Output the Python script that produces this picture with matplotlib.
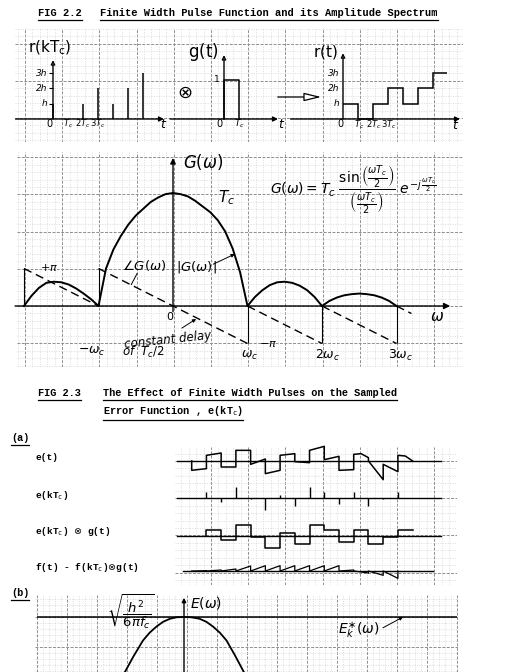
import numpy as np
import matplotlib.pyplot as plt
from matplotlib.ticker import MultipleLocator
from matplotlib.lines import Line2D
from matplotlib.patches import FancyArrowPatch

W, H = 521, 672

# FIG 2.2 top row: sampled input r(kTc), pulse g(t), held output r(t)
sample_k = [0, 1, 2, 3, 4, 5, 6]
sample_r = [1, 0, 1, 2, 1, 2, 3]          # units of h
hold_end = 6.9                              # last step drawn up to here (Tc)
pulse_t = [0, 0, 1, 1]
pulse_g = [0, 1, 1, 0]

# FIG 2.2 spectrum: w in units of wc, |G| in units of Tc, phase in units of pi
mag_w = [-2.0, -1.9, -1.8, -1.7, -1.6, -1.5, -1.4, -1.3, -1.2, -1.1,
         -1.0, -0.9, -0.8, -0.7, -0.6, -0.5, -0.4, -0.3, -0.2, -0.1,
         0.0, 0.1, 0.2, 0.3, 0.4, 0.5, 0.6, 0.7, 0.8, 0.9,
         1.0, 1.1, 1.2, 1.3, 1.4, 1.5, 1.6, 1.7, 1.8, 1.9,
         2.0, 2.1, 2.2, 2.3, 2.4, 2.5, 2.6, 2.7, 2.8, 2.9, 3.0]
mag_g = [0.0, 0.09, 0.16, 0.205, 0.215, 0.21, 0.19, 0.155, 0.11, 0.06,
         0.0, 0.33, 0.50, 0.62, 0.72, 0.80, 0.86, 0.92, 0.96, 0.99,
         1.0, 0.99, 0.97, 0.93, 0.88, 0.83, 0.76, 0.66, 0.51, 0.30,
         0.0, 0.08, 0.14, 0.185, 0.21, 0.215, 0.205, 0.18, 0.14, 0.08,
         0.0, 0.045, 0.075, 0.095, 0.105, 0.11, 0.105, 0.095, 0.075, 0.045, 0.0]
phase_w0 = [-2, -1, 1, 2, 3]
phase_w1 = [-1, 1, 2, 3, 3.2]
phase_p0 = [1, 1, 0, 0, 0]
phase_p1 = [0, -1, -1, -1, -0.2]
jump_w = [-2, -1, 1, 2, 3]
jump_p = [1, 1, -1, -1, -1]

# FIG 2.3 (a): time in units of Tc, amplitude in arbitrary units
et_t = [0, 0, 1, 1, 2, 2, 3, 3, 4, 4, 5, 5, 6, 6, 7, 7, 8, 8, 9, 9,
        10, 10, 11, 11, 11.5, 12, 12, 13, 13, 14, 14, 14.5, 15]
et_v = [0, -2.8, -2.3, 1.7, 2.4, -1.8, -1.8, 3.2, 3.2, -1.0, 0.6, -3.8, -2.8, 1.7, 2.2, -0.2, -0.5, 3.2, 4.4, 0.4,
        1.4, -2.8, -2.6, 2.0, 2.2, 1.0, 0.0, -5.6, -1.0, -3.2, 1.7, 1.5, 0.0]
ek_k = [1, 2, 3, 4, 5, 6, 7, 8, 9, 10, 11, 12, 13, 14]
ek_v = [1.9, -1.3, 3.2, -0.3, -3.6, 1.0, -2.3, 3.2, 1.7, -1.8, 1.7, -2.5, -0.3, 1.9]
ripple = [0.1, 0.3, 0.6, 1.5, 1.6, 1.6, 1.6, 1.6, 1.6, 1.6, 0.3, -0.6, -1.3, -2.2]

# FIG 2.3 (b): E(w), level line = sqrt(h^2 / 6 pi fc)
E_w = [-0.84, -0.79, -0.68, -0.55, -0.46, -0.37, -0.28, -0.19, -0.10, 0.0,
       0.10, 0.21, 0.30, 0.39, 0.48, 0.57, 0.68, 0.80, 0.85]
E_v = [0.0, 0.09, 0.34, 0.61, 0.74, 0.84, 0.92, 0.97, 0.995, 1.0,
       0.995, 0.97, 0.92, 0.84, 0.74, 0.61, 0.37, 0.09, 0.0]
E_level = 1.0

TYPE = ['Liberation Mono', 'DejaVu Sans Mono']
INK = 'black'

fig = plt.figure(figsize=(W / 100, H / 100), dpi=100)


def paper(x0, y0, x1, y1, xo, yo, step=37.2):
    ax = fig.add_axes([x0 / W, 1 - y1 / H, (x1 - x0) / W, (y1 - y0) / H])
    ax.set_xlim(x0 - xo, x1 - xo)
    ax.set_ylim(yo - y1, yo - y0)
    for axis in (ax.xaxis, ax.yaxis):
        axis.set_major_locator(MultipleLocator(step))
        axis.set_minor_locator(MultipleLocator(step / 5))
    ax.grid(which='major', color='#8e8e8e', lw=0.7, ls=(0, (3, 1.5)))
    ax.grid(which='minor', color='#d2d2d2', lw=0.5, ls=(0, (1.5, 2)))
    ax.tick_params(which='both', length=0, labelbottom=False, labelleft=False)
    for s in ax.spines.values():
        s.set_visible(False)
    ax.patch.set_alpha(0)
    return ax


def frame(x0, y0, x1, y1, ox, oy, sx, sy):
    ax = fig.add_axes([x0 / W, 1 - y1 / H, (x1 - x0) / W, (y1 - y0) / H])
    ax.set_xlim((x0 - ox) / sx, (x1 - ox) / sx)
    ax.set_ylim((oy - y1) / sy, (oy - y0) / sy)
    ax.axis('off')
    return ax


def arrow(ax, x0, y0, x1, y1, ms=8, lw=1.0, fc=INK):
    ax.annotate('', xy=(x1, y1), xytext=(x0, y0), annotation_clip=False,
                arrowprops=dict(arrowstyle='-|>', lw=lw, ec=INK, fc=fc,
                                mutation_scale=ms, shrinkA=0, shrinkB=0))


# ---------------- FIG 2.2 top row ----------------
paper(15, 28, 463, 142, 25, 118)

ax = frame(15, 28, 170, 142, 53, 119, 15, 15.3)
ax.vlines(sample_k, 0, sample_r, color=INK, lw=1.1)
arrow(ax, -2.5, 0, 7.4, 0, ms=7)
arrow(ax, 0, 0, 0, 3.85, ms=6, fc='white')
ax.hlines([1, 2, 3], -0.3, 0, color=INK, lw=0.8)
for lv, lab in zip([1, 2, 3], ['h', '2h', '3h']):
    ax.text(-0.35, lv, lab, fontsize=6.5, style='italic', ha='right', va='center')
ax.text(-0.25, -0.3, '0', fontsize=7, ha='center', va='center')
for kk, lab in zip([1, 2, 3], ['$T_c$', '$2T_c$', '$3T_c$']):
    ax.text(kk, -0.3, lab, fontsize=6, ha='center', va='center')
ax.text(7.4, -0.35, '$t$', fontsize=9, ha='center', va='center')
ax.text(-0.2, 4.65, r'$\mathrm{r(kT_c)}$', fontsize=11, ha='center', va='center')

ax = frame(170, 28, 290, 142, 224, 119, 15, 39)
ax.plot(pulse_t, pulse_g, color=INK, lw=1.1)
arrow(ax, -3.6, 0, 3.6, 0, ms=7)
arrow(ax, 0, 0, 0, 1.64, ms=6, fc='white')
ax.text(-0.3, 1.0, '1', fontsize=6.5, ha='right', va='center')
ax.text(-0.3, -0.13, '0', fontsize=7, ha='center', va='center')
ax.text(1.0, -0.13, '$T_c$', fontsize=6.5, ha='center', va='center')
ax.text(3.85, -0.15, '$t$', fontsize=9, ha='center', va='center')
ax.text(-1.4, 1.72, r'$\mathrm{g(t)}$', fontsize=12, ha='center', va='center')
ax.text(-2.6, 0.66, r'$\otimes$', fontsize=13, ha='center', va='center')

fig.add_artist(FancyArrowPatch((275 / W, 1 - 97 / H), (324 / W, 1 - 97 / H),
                               transform=fig.transFigure,
                               arrowstyle='-|>,head_length=0.7,head_width=0.17',
                               mutation_scale=15, fc='white', ec=INK, lw=0.9))

ax = frame(290, 28, 463, 142, 343, 119, 15, 15.3)
ax.stairs(sample_r, sample_k + [hold_end], baseline=None, color=INK, lw=1.1)
arrow(ax, -3.5, 0, 7.8, 0, ms=7)
arrow(ax, 0, 0, 0, 4.3, ms=6, fc='white')
for lv, lab in zip([1, 2, 3], ['h', '2h', '3h']):
    ax.text(-0.25, lv, lab, fontsize=6.5, style='italic', ha='right', va='center')
ax.text(-0.15, -0.35, '0', fontsize=7, ha='center', va='center')
for kk, lab in zip([1, 2, 3], ['$T_c$', '$2T_c$', '$3T_c$']):
    ax.text(kk + 0.05, -0.35, lab, fontsize=6, ha='center', va='center')
ax.text(7.5, -0.4, '$t$', fontsize=9, ha='center', va='center')
ax.text(-1.2, 4.4, r'$\mathrm{r(t)}$', fontsize=11, ha='center', va='center')

# ---------------- FIG 2.2 spectrum ----------------
paper(17, 152, 463, 367, 25, 306)
PI = 37.5 / 113          # height of pi on the Tc scale
sp = frame(17, 152, 463, 367, 173, 306, 74.5, 113)
sp.plot(mag_w, mag_g, color=INK, lw=1.4)
for w0, w1, p0, p1 in zip(phase_w0, phase_w1, phase_p0, phase_p1):
    sp.plot([w0, w1], [p0 * PI, p1 * PI], color=INK, lw=1.0, ls=(0, (6, 3.5)))
sp.vlines(jump_w, 0, np.array(jump_p) * PI, color=INK, lw=0.8)
arrow(sp, -2.12, 0, 3.72, 0, ms=9)
arrow(sp, 0, -0.05, 0, 1.31, ms=8)

sp.text(0.13, 1.27, r'$G(\omega)$', fontsize=12, ha='left', va='center')
sp.text(0.72, 0.96, '$T_c$', fontsize=11, ha='center', va='center')
sp.text(2.42, 1.03,
        r'$G(\omega) = T_c\ \dfrac{\sin\left(\frac{\omega T_c}{2}\right)}'
        r'{\left(\frac{\omega T_c}{2}\right)}\ e^{-j\,\frac{\omega T_c}{2}}$',
        fontsize=10, ha='center', va='center')
sp.text(-1.66, 0.345, r'$+\pi$', fontsize=8, ha='center', va='center')
sp.text(-0.38, 0.36, r'$\angle G(\omega)$', fontsize=9.5, ha='center', va='center')
sp.plot([-0.48, -0.56], [0.29, 0.19], color=INK, lw=0.7)
sp.text(0.32, 0.345, r'$|G(\omega)|$', fontsize=9.5, ha='center', va='center')
arrow(sp, 0.54, 0.37, 0.83, 0.46, ms=5, lw=0.7)
sp.text(-0.04, -0.09, '$0$', fontsize=8, ha='center', va='center')
sp.text(3.54, -0.09, r'$\omega$', fontsize=11, ha='center', va='center')
sp.text(-0.07, -0.30, 'constant delay', fontsize=8.5, style='italic',
        ha='center', va='center', rotation=6)
sp.text(-0.40, -0.41, r'of  $T_c/2$', fontsize=8.5, style='italic', ha='center', va='center')
arrow(sp, 0.12, -0.195, 0.31, -0.115, ms=5, lw=0.7)
sp.text(1.28, -0.34, r'$-\pi$', fontsize=8, ha='center', va='center')
sp.text(-1.09, -0.40, r'$-\omega_c$', fontsize=9, ha='center', va='center')
for xw, lab in zip([1.03, 2.07, 3.05], [r'$\omega_c$', r'$2\omega_c$', r'$3\omega_c$']):
    sp.text(xw, -0.44, lab, fontsize=9, ha='center', va='center')

# ---------------- FIG 2.3 (a) ----------------
paper(175, 447, 457, 585, 25, 461)
rows = [461, 498, 536, 571]
ra = [frame(175, b - 20, 457, b + 20, 191.7, b, 14.73, 3.33) for b in rows]

ra[0].plot([-1.0, 16.9], [0, 0], color=INK, lw=1.0)
ra[0].plot(et_t, et_v, color=INK, lw=1.1)

ra[1].plot([-1.0, 16.9], [0, 0], color=INK, lw=1.0)
ra[1].vlines(ek_k, 0, ek_v, color=INK, lw=1.0)

ra[2].plot([-1.0, 16.9], [0, 0], color=INK, lw=1.0)
hold_t = [ek_k[0]] + ek_k + [ek_k[-1] + 1]
hold_v = [0] + ek_v + [ek_v[-1]]
ra[2].plot(hold_t, hold_v, drawstyle='steps-post', color=INK, lw=1.1)

ra[3].plot([-0.6, 16.4], [0, 0], color=INK, lw=1.0)
tx, tv = [], []
for k, a in enumerate(ripple):
    tx += [k, k + 1, k + 1]
    tv += [0, a, 0]
ra[3].plot(tx, tv, color=INK, lw=0.9)

# ---------------- FIG 2.3 (b) ----------------
paper(35, 595, 458, 672, 37, 617, step=30)
eb = frame(35, 595, 458, 672, 184, 677, 74.5, 60)
eb.hlines(E_level, -1.97, 3.66, color=INK, lw=1.1)
eb.plot(E_w, E_v, color=INK, lw=1.3)
arrow(eb, 0, 0.0, 0, 1.32, ms=6)
eb.text(0.08, 1.23, r'$E(\omega)$', fontsize=10, ha='left', va='center')
eb.text(-0.72, 1.09, r'$\sqrt{\dfrac{h^2}{6\pi f_c}}$', fontsize=9.5, ha='center', va='center')
eb.text(2.34, 0.78, r'$E^{\ast}_{k}(\omega)$', fontsize=10, ha='center', va='center')
arrow(eb, 2.67, 0.82, 2.94, 1.0, ms=5, lw=0.7)

# ---------------- typed text ----------------
typed = []
typed.append(fig.text(38 / W, 1 - 13 / H, 'FIG 2.2', family=TYPE, fontsize=7.5,
                      weight='bold', va='center'))
typed.append(fig.text(100 / W, 1 - 13 / H,
                      'Finite Width Pulse Function and its Amplitude Spectrum',
                      family=TYPE, fontsize=7.5, weight='bold', va='center'))
typed.append(fig.text(38 / W, 1 - 393 / H, 'FIG 2.3', family=TYPE, fontsize=7.4,
                      weight='bold', va='center'))
typed.append(fig.text(103 / W, 1 - 393 / H,
                      'The Effect of Finite Width Pulses on the Sampled',
                      family=TYPE, fontsize=7.4, weight='bold', va='center'))
typed.append(fig.text(103 / W, 1 - 411 / H, r'Error Function , e(kT$_{\mathtt{c}}$)',
                      family=TYPE, fontsize=7.4, weight='bold', va='center'))
typed.append(fig.text(11 / W, 1 - 438 / H, '(a)', family=TYPE, fontsize=7.4,
                      weight='bold', va='center'))
typed.append(fig.text(11 / W, 1 - 593 / H, '(b)', family=TYPE, fontsize=7.4,
                      weight='bold', va='center'))

row_labels = ['e(t)', r'e(kT$_{\mathtt{c}}$)', r'e(kT$_{\mathtt{c}}$) $\otimes$ g(t)',
              r'f(t) - f(kT$_{\mathtt{c}}$)$\otimes$g(t)']
row_y = [457, 495, 532, 568]
for lab, yy in zip(row_labels, row_y):
    fig.text(35 / W, 1 - yy / H, lab, family=TYPE, fontsize=6.8, weight='bold', va='center')

fig.canvas.draw()
renderer = fig.canvas.get_renderer()
for t in typed:
    bb = t.get_window_extent(renderer)
    yl = (bb.y0 - 1.5) / H
    fig.add_artist(Line2D([bb.x0 / W, bb.x1 / W], [yl, yl], color=INK, lw=0.9))

fig.savefig('out.png', dpi=100)
